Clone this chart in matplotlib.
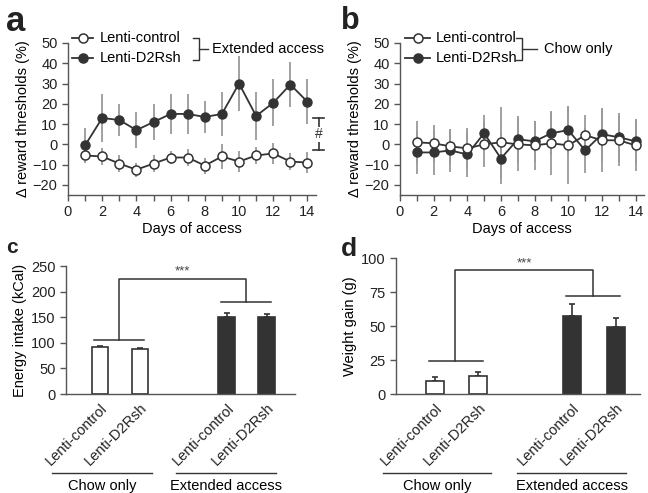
import numpy as np
import matplotlib
matplotlib.use('Agg')
import matplotlib.pyplot as plt

plt.rcParams['font.family'] = ['Liberation Sans', 'DejaVu Sans']
plt.rcParams['font.size'] = 10.5
plt.rcParams['axes.linewidth'] = 1.0

DARK = '#333333'
GREY = '#9a9a9a'
SPINE = '#555555'

# panel a: extended access
days = np.arange(1, 15)
a_ctrl = [-5.5, -6, -9.5, -12.5, -9.5, -6.5, -6.5, -10.5, -6, -8.5, -5.5, -4.5, -8.5, -9]
a_ctrl_err = [2.5, 4, 4, 3.5, 4, 3, 4, 4, 6, 5, 4, 5, 4, 5]
a_d2 = [-0.5, 13, 12, 7, 11, 15, 15, 13.5, 15, 30, 14, 20.5, 29.5, 21]
a_d2_err = [8.5, 12, 8, 9, 9, 10, 10, 8, 11, 13.5, 12, 11.5, 11, 11]

# panel b: chow only
b_ctrl = [1, 0.5, -1, -2, 0, 1, 0, -0.5, 0.5, -0.5, 4.5, 2, 2, -0.5]
b_ctrl_err = [10.5, 9, 8.5, 10, 11, 17.5, 13, 12, 15.5, 19, 10, 15.5, 12.5, 12.5]
b_d2 = [-4, -4, -3, -5, 5.5, -7, 2.5, 1.5, 5.5, 7, -3, 5, 3.5, 1.5]
b_d2_err = [10.5, 11, 10.5, 11, 9, 12.5, 11.5, 10, 11, 12, 11, 13, 12, 11]

# panels c, d
bar_labels = ['Lenti-control', 'Lenti-D2Rsh', 'Lenti-control', 'Lenti-D2Rsh']
groups = ['Chow only', 'Extended access']
energy = [92.5, 88, 151, 150]
energy_err = [1.5, 1.5, 7, 6]
weight = [9.7, 13.5, 57.5, 49.5]
weight_err = [2.5, 2.5, 9, 6.5]

fig = plt.figure(figsize=(6.48, 4.93), dpi=100)
W, H = 648.0, 493.0


def fx(px):
    return px / W


def fy(py):
    return 1 - py / H


def style(ax):
    ax.spines['top'].set_visible(False)
    ax.spines['right'].set_visible(False)
    for s in ['left', 'bottom']:
        ax.spines[s].set_color(SPINE)
    ax.tick_params(direction='out', length=4, width=1, color=SPINE, labelcolor='#222222')


def line_panel(ax, ctrl, ctrl_err, d2, d2_err):
    ax.errorbar(days, ctrl, yerr=ctrl_err, fmt='none', ecolor=GREY, elinewidth=1.3, capsize=0, zorder=1)
    ax.errorbar(days, d2, yerr=d2_err, fmt='none', ecolor=GREY, elinewidth=1.3, capsize=0, zorder=1)
    ax.plot(days, d2, '-o', color=DARK, lw=1.3, ms=6.5, mfc=DARK, mec=DARK, zorder=3)
    ax.plot(days, ctrl, '-o', color=DARK, lw=1.3, ms=6.5, mfc='white', mec=DARK, mew=1.1, zorder=4)
    ax.set_xlim(0, 14.5)
    ax.set_ylim(-25, 50)
    ax.set_xticks(np.arange(0, 15, 2))
    ax.set_xticks(np.arange(1, 15, 2), minor=True)
    ax.tick_params(which='minor', direction='out', length=4, width=1, color=SPINE)
    ax.set_yticks(np.arange(-20, 51, 10))
    ax.set_xlabel('Days of access', labelpad=2)
    ax.set_ylabel('Δ reward thresholds (%)', labelpad=2)
    style(ax)


def legend(x0, x1, xt, xb, xstub, xlab, label):
    for py, fill, name in [(38, 'white', 'Lenti-control'), (58, DARK, 'Lenti-D2Rsh')]:
        fig.add_artist(plt.Line2D([fx(x0), fx(x1)], [fy(py), fy(py)], color=DARK, lw=1.3))
        fig.add_artist(plt.Line2D([fx((x0 + x1) / 2)], [fy(py)], marker='o', ms=6.5,
                                  mfc=fill, mec=DARK, mew=1.1, color=DARK))
        fig.text(fx(xt), fy(py), name, va='center', ha='left', fontsize=10.5)
    fig.add_artist(plt.Line2D([fx(xb - 6), fx(xb), fx(xb), fx(xb - 6)],
                              [fy(38), fy(38), fy(60), fy(60)], color=DARK, lw=1))
    fig.add_artist(plt.Line2D([fx(xb), fx(xstub)], [fy(49), fy(49)], color=DARK, lw=1))
    fig.text(fx(xlab), fy(49), label, va='center', ha='left', fontsize=10.5)


# ---- a ----
ax_a = fig.add_axes([fx(68), fy(195), fx(316) - fx(68), fy(43) - fy(195)])
line_panel(ax_a, a_ctrl, a_ctrl_err, a_d2, a_d2_err)
ax_a.plot([14.35, 14.95], [13, 13], color=DARK, lw=1.2, clip_on=False)
ax_a.plot([14.35, 14.95], [-3, -3], color=DARK, lw=1.2, clip_on=False)
ax_a.plot([14.65, 14.65], [13, -3], color=DARK, lw=1.2, clip_on=False)
ax_a.text(14.65, 5, '#', ha='center', va='center', fontsize=10, color=DARK,
          bbox=dict(fc='white', ec='none', pad=0.5))
legend(72, 93, 100, 199, 208, 212, 'Extended access')

# ---- b ----
ax_b = fig.add_axes([fx(400), fy(195), fx(644) - fx(400), fy(43) - fy(195)])
line_panel(ax_b, b_ctrl, b_ctrl_err, b_d2, b_d2_err)
legend(405, 430, 436, 522, 537, 544, 'Chow only')

# ---- bars ----
pos = np.array([0, 1, 3.17, 4.17])
fills = ['white', 'white', DARK, DARK]


def bar_panel(ax, vals, errs, ymax, yticks, ylabel, xlim, b1, b2, btop, star_y, top_px):
    ax.bar(pos, vals, width=0.42, color=fills, edgecolor=DARK, linewidth=1.2, zorder=2)
    ax.errorbar(pos, vals, yerr=[np.zeros(4), errs], fmt='none', ecolor=DARK,
                elinewidth=1.2, capsize=2, capthick=1.2, zorder=1)
    ax.set_xlim(*xlim)
    ax.set_ylim(0, ymax)
    ax.set_yticks(yticks)
    ax.set_xticks(pos)
    ax.set_xticklabels(bar_labels, rotation=45, ha='right', va='top', rotation_mode='anchor')
    ax.tick_params(axis='x', length=0, pad=5)
    ax.set_ylabel(ylabel, labelpad=3)
    style(ax)
    ax.tick_params(axis='x', length=0)
    # brackets
    ax.plot([-0.15, 1.1], [b1, b1], color=DARK, lw=1.1)
    ax.plot([pos[2] - 0.15, pos[2] + 1.1], [b2, b2], color=DARK, lw=1.1)
    ax.plot([0.47, 0.47, pos[2] + 0.47, pos[2] + 0.47], [b1, btop, btop, b2], color=DARK, lw=1.1)
    ax.text((0.47 + pos[2] + 0.47) / 2, star_y, '***', ha='center', va='center', fontsize=9.5,
            color='#444444')
    # group labels, placed by pixel rows below the axis
    hpx = 394 - top_px
    tr = ax.get_xaxis_transform()
    for c, g in zip([0.05, 3.15], groups):
        ax.plot([c - 1.25, c + 1.25], [(394 - 473) / hpx] * 2, transform=tr, color=DARK, lw=1,
                clip_on=False)
        ax.text(c, (394 - 490) / hpx, g, transform=tr, ha='center', va='baseline', fontsize=10.5)


ax_c = fig.add_axes([fx(66), fy(394), fx(295) - fx(66), fy(266) - fy(394)])
bar_panel(ax_c, energy, energy_err, 250, np.arange(0, 251, 50), 'Energy intake (kCal)',
          (-0.85, 4.875), 105, 179, 225, 240, 266)
ax_d = fig.add_axes([fx(396), fy(394), fx(640) - fx(396), fy(258) - fy(394)])
bar_panel(ax_d, weight, weight_err, 100, np.arange(0, 101, 25), 'Weight gain (g)',
          (-0.9, 4.73), 24, 72, 91, 96, 258)

# panel letters
fig.text(fx(6), fy(31), 'a', fontsize=25, fontweight='bold', color='#222222')
fig.text(fx(341), fy(29), 'b', fontsize=22, fontweight='bold', color='#222222')
fig.text(fx(6), fy(253), 'c', fontsize=15, fontweight='bold', color='#222222')
fig.text(fx(341), fy(256), 'd', fontsize=19, fontweight='bold', color='#222222')

fig.savefig('out.png', dpi=100)
